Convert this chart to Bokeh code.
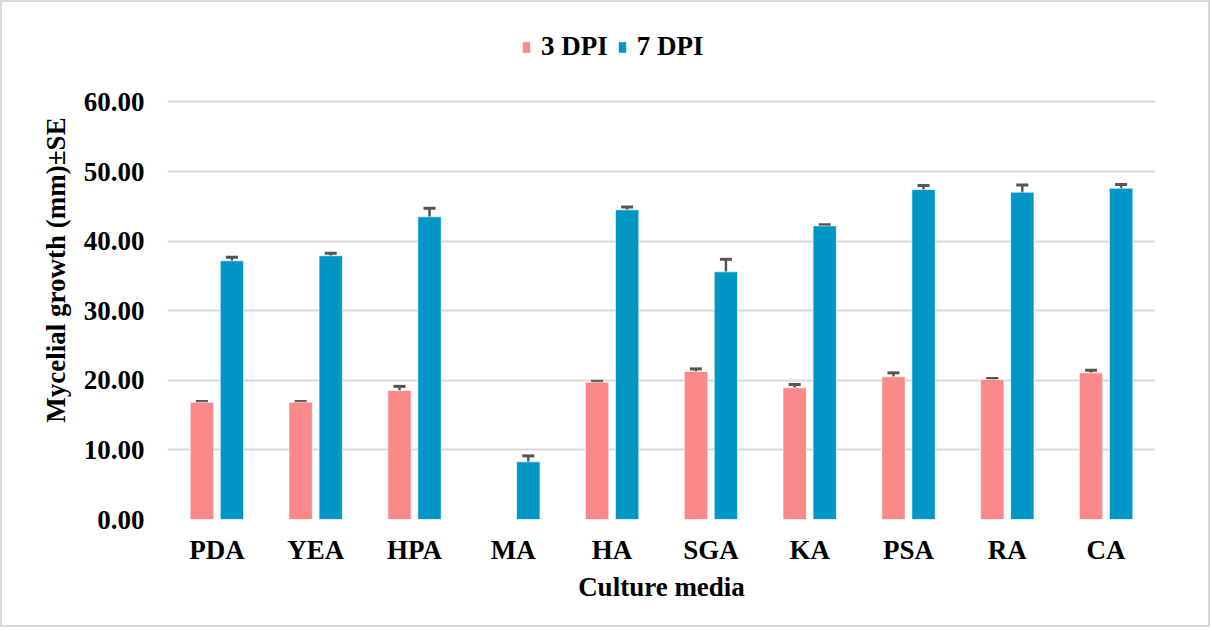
from bokeh.plotting import figure
from bokeh.models import (ColumnDataSource, Range1d, Whisker, TeeHead, Legend, LegendItem,
                          NumeralTickFormatter, FixedTicker)
from bokeh.transform import dodge
from bokeh.embed import file_html
from bokeh.resources import INLINE

media = ["PDA", "YEA", "HPA", "MA", "HA", "SGA", "KA", "PSA", "RA", "CA"]
dpi3 = [16.85, 16.85, 18.53, 0.0, 19.73, 21.26, 18.92, 20.50, 20.11, 21.07]
dpi3_se = [0.10, 0.10, 0.60, 0.0, 0.12, 0.38, 0.48, 0.57, 0.15, 0.38]
dpi7 = [37.17, 37.90, 43.49, 8.28, 44.50, 35.59, 42.19, 47.41, 47.03, 47.60]
dpi7_se = [0.50, 0.36, 1.25, 0.86, 0.40, 1.80, 0.15, 0.57, 1.05, 0.55]
y_ticks = [0, 10, 20, 30, 40, 50, 60]

PINK = "#F98A89"
BLUE = "#0097C7"
FONT = "Liberation Serif"
FS = "27px"

src = ColumnDataSource(dict(
    media=media, d3=dpi3, d7=dpi7,
    d7_lo=[v - e for v, e in zip(dpi7, dpi7_se)], d7_hi=[v + e for v, e in zip(dpi7, dpi7_se)],
))
# no error bar for the missing MA 3 DPI bar
src3 = ColumnDataSource(dict(
    media=[m for m, v in zip(media, dpi3) if v > 0],
    lo=[v - e for v, e in zip(dpi3, dpi3_se) if v > 0],
    hi=[v + e for v, e in zip(dpi3, dpi3_se) if v > 0],
))

# y range extends above 60 to leave room for the legend inside the frame
p = figure(x_range=media, y_range=Range1d(0, 71.7), width=1210, height=627,
           output_backend="svg", toolbar_location=None,
           min_border_left=165, min_border_right=57, min_border_top=18, min_border_bottom=110)
p.styles = {"border": "2px solid #d9d9d9"}
p.outline_line_color = None
p.background_fill_color = "white"

off = 0.152
w = 0.236
r3 = p.vbar(x=dodge("media", -off, range=p.x_range), top="d3", width=w, source=src,
            fill_color=PINK, line_color="white", line_width=1, line_alpha=0.6)
r7 = p.vbar(x=dodge("media", off, range=p.x_range), top="d7", width=w, source=src,
            fill_color=BLUE, line_color="white", line_width=1, line_alpha=0.6)

EB = "#555555"
def add_whisker(source, offset, lo, hi):
    wk = Whisker(base=dodge("media", offset, range=p.x_range), lower=lo, upper=hi, source=source,
                 line_color=EB, line_width=2.5,
                 lower_head=TeeHead(size=12, line_color=EB, line_width=3),
                 upper_head=TeeHead(size=12, line_color=EB, line_width=3))
    p.add_layout(wk)

add_whisker(src3, -off, "lo", "hi")
add_whisker(src, off, "d7_lo", "d7_hi")

# grid
p.xgrid.grid_line_color = None
p.ygrid.grid_line_color = "#d9d9d9"
p.ygrid.grid_line_width = 2
p.yaxis.ticker = FixedTicker(ticks=y_ticks)
p.yaxis.formatter = NumeralTickFormatter(format="0.00")

for ax in (p.xaxis[0], p.yaxis[0]):
    ax.axis_line_color = None
    ax.major_tick_line_color = None
    ax.minor_tick_line_color = None
    ax.major_label_text_font = FONT
    ax.major_label_text_font_style = "bold"
    ax.major_label_text_font_size = FS
    ax.major_label_text_color = "black"
    ax.axis_label_text_font = FONT
    ax.axis_label_text_font_style = "bold"
    ax.axis_label_text_font_size = FS
    ax.axis_label_text_color = "black"

p.xaxis.axis_label = "Culture media"
p.yaxis.axis_label = "Mycelial growth (mm)±SE"
p.yaxis.major_label_standoff = 17
p.xaxis.major_label_standoff = 9
p.yaxis.axis_label_standoff = 10
p.xaxis.axis_label_standoff = 4

legend = Legend(items=[LegendItem(label="3 DPI", renderers=[r3]),
                       LegendItem(label="7 DPI", renderers=[r7])],
                orientation="horizontal", location=(354, 457),
                label_text_font=FONT, label_text_font_style="bold", label_text_font_size=FS,
                label_text_color="black", glyph_width=10, glyph_height=14,
                label_standoff=10, spacing=9, padding=0, margin=0,
                border_line_color=None, background_fill_alpha=0)
p.add_layout(legend, "center")

open("out.html", "w").write(file_html(p, INLINE))
